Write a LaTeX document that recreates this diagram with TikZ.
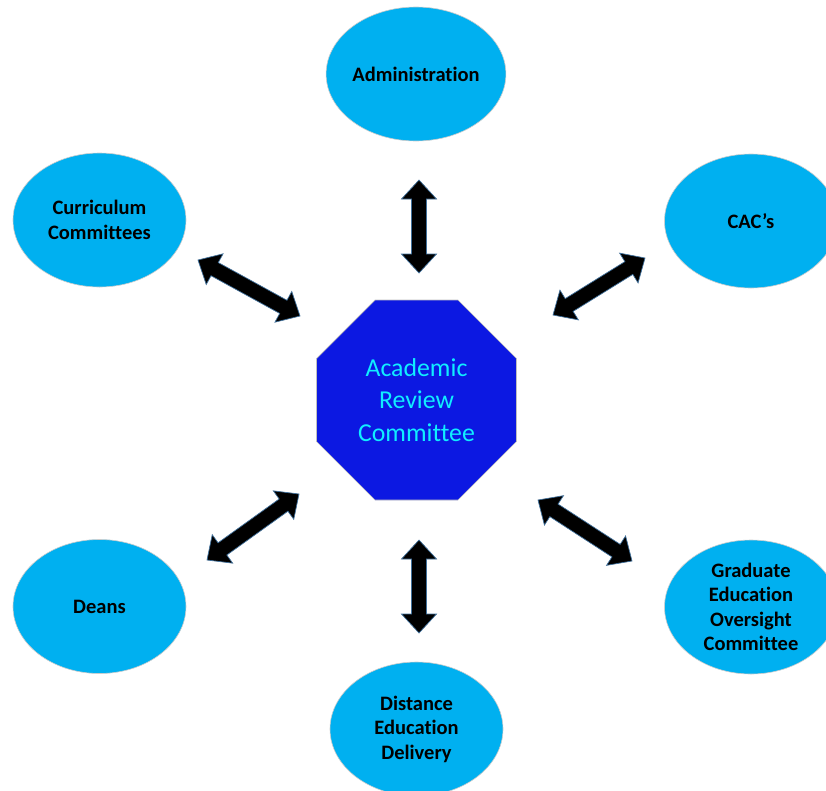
\documentclass[tikz,border=0pt]{standalone}
\usepackage{fontspec}
\setmainfont{Carlito}[Ligatures={NoCommon}]
\usetikzlibrary{shapes.geometric,calc}
\definecolor{ellfill}{HTML}{00B0F0}
\definecolor{octfill}{HTML}{0C18E2}
\definecolor{octtext}{HTML}{10EEFF}
\definecolor{arrline}{HTML}{41719C}
\tikzset{
  ellnode/.style={ellipse, fill=ellfill, draw=black!20, line width=0.6pt,
    minimum width=173pt, minimum height=134pt, inner sep=0pt, align=center,
    font=\fontsize{20.5pt}{24.5pt}\selectfont\bfseries},
  octnode/.style={regular polygon, regular polygon sides=8, fill=octfill,
    draw=black!25, line width=0.6pt, minimum size=216.5pt, inner sep=0pt,
    align=center, text=octtext, font=\fontsize{25.8pt}{32.5pt}\selectfont},
  blockarrow/.style={fill=black, draw=arrline, line width=0.7pt, line join=miter}
}
\newcommand\hl{19pt}
\newcommand\hw{17.5pt}
\newcommand\sw{7.5pt}
\newcommand\dblarr[2]{%
  \filldraw[blockarrow] (#1)
  -- ($(#1)!\hl!(#2)!\hw!90:(#2)$)
  -- ($(#1)!\hl!(#2)!\sw!90:(#2)$)
  -- ($(#2)!\hl!(#1)!\sw!-90:(#1)$)
  -- ($(#2)!\hl!(#1)!\hw!-90:(#1)$)
  -- (#2)
  -- ($(#2)!\hl!(#1)!\hw!90:(#1)$)
  -- ($(#2)!\hl!(#1)!\sw!90:(#1)$)
  -- ($(#1)!\hl!(#2)!\sw!-90:(#2)$)
  -- ($(#1)!\hl!(#2)!\hw!-90:(#2)$)
  -- cycle;}
\begin{document}
\begin{tikzpicture}[x=1pt,y=-1pt]
\useasboundingbox (0,0) rectangle (826,790);
\begin{scope}
\clip (0,0) rectangle (826,790);
\node[octnode] (arc) at (416.5,400) {Academic\\Review\\Committee};
\node[ellnode] (admin) at (416,74) {Administration};
\node[ellnode] (curr) at (99.5,220) {Curriculum\\Committees};
\node[ellnode] (cac) at (751,221) {CAC’s};
\node[ellnode] (deans) at (99.5,606.5) {Deans};
\node[ellnode] (grad) at (751,607) {Graduate\\Education\\Oversight\\Committee};
\node[ellnode] (dist) at (416.5,729) {Distance\\Education\\Delivery};
\end{scope}
\coordinate (t1) at (419,180); \coordinate (t2) at (419,273);
\coordinate (b1) at (419,540); \coordinate (b2) at (419,633);
\coordinate (ul1) at (198,260); \coordinate (ul2) at (300,316);
\coordinate (ur1) at (645,258); \coordinate (ur2) at (553,315);
\coordinate (ll1) at (299,494); \coordinate (ll2) at (207,560);
\coordinate (lr1) at (538,500); \coordinate (lr2) at (632,561);
\dblarr{t1}{t2}
\dblarr{b1}{b2}
\dblarr{ul1}{ul2}
\dblarr{ur1}{ur2}
\dblarr{ll1}{ll2}
\dblarr{lr1}{lr2}
\end{tikzpicture}
\end{document}
